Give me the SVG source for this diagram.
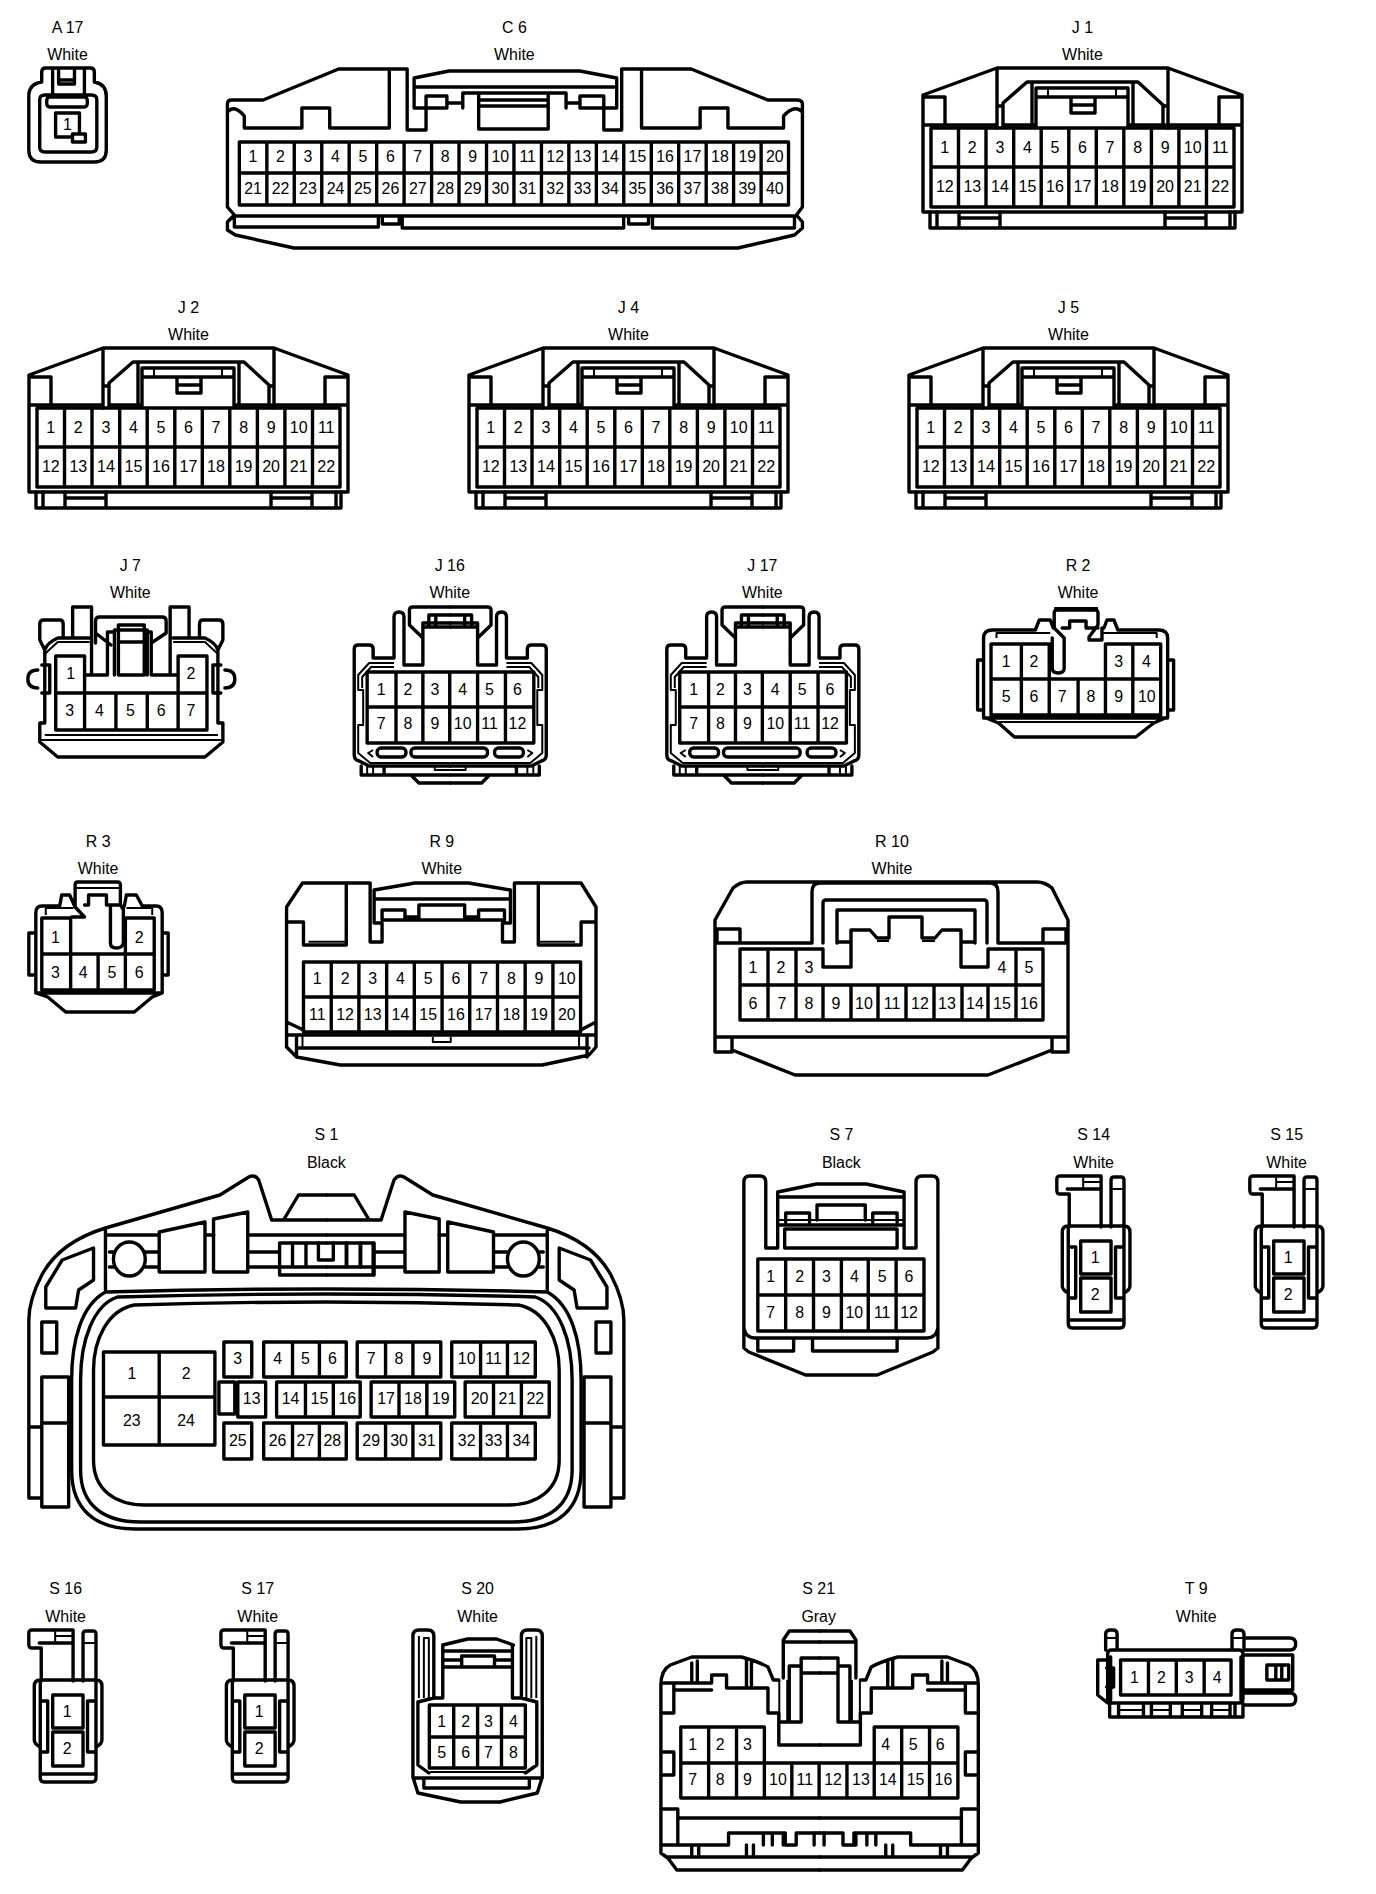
<svg xmlns="http://www.w3.org/2000/svg" width="1376" height="1894" viewBox="0 0 1376 1894">
<style>
.h{fill:none;stroke:#000;stroke-width:3.4;stroke-linejoin:round;stroke-linecap:round}
.t{fill:none;stroke:#000;stroke-width:2;stroke-linejoin:round}
text{font-family:"Liberation Sans",Arial,sans-serif;font-size:16px;text-anchor:middle;fill:#000}
</style>
<defs>
<g id="h22">
<path class="h" d="M923,95L997,68H1168L1242,95V212H923ZM923,125H997M1003,125H1035M1128,125H1165M1168,125H1242M945,97V125M923,97H945M1219,97V125M1219,97H1242M997,68V128M1168,68V128M997,106H1003M1163,106H1168M1003,127V103L1027,82H1138L1163,105V127M1032,84V125M1133,84V125M1036,127V88H1128V127M1036,97H1128M1071,98V113H1095V98M1071,105H1095"/>
<path class="t" d="M1048,88V97M1116,88V97"/>
<path class="h" d="M931,128H1234V207H931ZM931,167H1234M958.5,128V207M986,128V207M1013.7,128V207M1041.2,128V207M1068.8,128V207M1096.3,128V207M1123.8,128V207M1151.4,128V207M1178.9,128V207M1206.5,128V207M930,212V228H1235V212M937,212V228M1230,212V228M959,212V228M1000,212V228M1165,212V228M1206,212V228M959,218H1000M1165,218H1206"/>
</g>
<g id="h12l">
<path class="h" d="M452.5,607H415Q411.5,607 411.5,610V625L425,638V665H406V617Q406,612 401,612Q396,612 396,617V658H375V649Q375,645 371,645H360Q356,645 356,649V755Q356,760 361,761L371,766H452.5M425,638V623H452.5M431,623V615H452.5M438,615V626M431,615V626M425,627H452.5M363,766V775H452.5M413,775L421,783H452.5M386,766V775"/>
<path class="t" d="M396,663H371L360,675V690H365V725H360V753L372,763H452.5M396,667H373L364,677V688M369,766V775M375,766V775M437,767V770H452.5M375,750L370,753L375,757"/>
<rect class="h" x="379" y="748" width="29" height="9" rx="4"/>
</g>
<g id="h12">
<use href="#h12l"/><use href="#h12l" transform="matrix(-1 0 0 1 905 0)"/>
<rect class="h" x="413" y="748" width="77" height="9" rx="4"/>
<path class="h" d="M369,672H536.5V743H369ZM369,707H536.5M398,672V743M425,672V743M452,672V743M480,672V743M508,672V743"/>
</g>
<g id="p2">
<path class="h" d="M1071,1194H1061Q1058.5,1194 1058.5,1190V1179Q1058.5,1176 1062,1176H1103V1227M1071,1194V1227M1069,1189H1103M1113,1227V1180Q1113,1177 1116,1177H1123Q1126,1177 1126,1180V1227M1064,1232Q1064,1226 1070,1226H1126Q1132,1226 1132,1232V1286Q1132,1290 1126,1293V1324Q1126,1328 1122,1328H1074Q1070,1328 1070,1324V1293Q1064,1290 1064,1286ZM1070,1226V1293M1126,1226V1293M1070,1247H1077.5V1298H1070M1126,1247H1117.5V1298H1126M1070,1320H1126M1082.5,1241H1113V1274H1082.5ZM1082.5,1278H1113V1312H1082.5Z"/>
<path class="t" d="M1085,1182H1103M1113,1189H1126M1085,1176V1189"/>
</g>
<g id="s1l">
<path class="h" d="M328,1220H273L260,1180Q256,1174 250,1177L221,1195L106,1228Q60,1242 42,1275Q29,1300 29,1320V1498H42V1507H69V1423M42,1498V1377H69V1423H42M29,1427H42M42,1322H57V1353H42ZM46,1308V1287L62.5,1260L94,1248V1280L79,1290L76,1308ZM106,1228V1290M160,1232L206,1222V1272H160ZM214.6,1219L249,1212V1272H214.6ZM106,1235H160M206,1235H215M249,1235H328M250,1252H281M250,1267H281M110,1252H114M146,1252H160M146,1267H160M110,1267H114M281,1243H328M281,1243V1275H328M281,1267H328M294,1243V1267M307.5,1243V1267M285,1220L300,1195H328"/>
<ellipse class="h" cx="130" cy="1259" rx="16" ry="17"/>
</g>
<g id="s21l">
<path class="h" d="M820.5,1631H790L784,1640V1678M784,1642H820.5M802,1722V1658H820.5M802,1673H820.5M802,1666H790V1722H802M779.5,1722H802M779.5,1722V1745H820.5M779.5,1680H774L768.6,1667Q760,1662 742,1657H692L670.5,1665Q661,1670 661,1685V1853L668,1858L677,1870H820.5M664,1683H712V1675H727V1688H768.6V1713H779.5V1722M661,1713H674V1683M661,1752H674V1775H661M661,1809H678V1845M678,1818H820.5M661,1845H729V1833H786V1845H797V1833H820.5M668,1857H820.5M675,1690H712M692,1663V1683M697.6,1661V1683M747,1659V1688M752,1661V1688M692,1845V1857M699,1845V1857M747,1845V1857M754,1845V1857M764,1833V1845M773,1833V1845M784,1833V1845"/>
<path class="t" d="M780,1680V1722M788,1680V1722"/>
</g>
</defs>
<rect width="1376" height="1894" fill="#fff"/>

<g id="A17" transform="matrix(.9931 0 0 1 0 0)">
<text x="68" y="33">A 17</text><text x="68" y="60">White</text>
<path class="h" d="M42,82V72Q42,68 46,68H91Q95,68 95,72V82Q107,84 107,96V150Q107,162 95,162H41Q29,162 29,150V96Q29,84 42,82ZM40,100Q40,95 45,95H92Q97.5,95 97.5,100V147Q97.5,152 92,152H45Q40,152 40,147ZM53,70V97M85,70V97M50,97H85Q88,97 88,102T85,107H50Q47,107 47,102T50,97ZM59,70V84H75V70M59,80H75M80,134V113H56V137H73M73,134H86V142H73Z"/>
<text x="68" y="130">1</text>
</g>

<g id="C6" transform="matrix(.9931 0 0 1 0 0)">
<text x="518" y="33">C 6</text><text x="518" y="60">White</text>
<path class="h" d="M429,108V130H410V69H341L265,100H233Q229,100 229,104V207L236,215L229,222V230L237,235L296,248H743L800,235L808,228V222L802,215L808,207V104Q808,100 802,100H773L696,69H626V130H608V108M392,69V128M646,69V128M229,112Q236,104 246,116V128H304V108H332V128H392M646,128H705V108H733V128H789V116Q800,104 808,112M417,108V78L452,71H584L621,78V108M417,87H621M417,108H429V96H450V108H429M608,108H621M584,108V96H608V108H584M450,103H466M570,103H584M466,108V93H570V108M482,95V129H552V95M482,100H552M482,106H552M235,216H800M236,216V227H381V216M405,216V228H628V216M657,216V228H800V216M385,218V224H402V218M633,218V224H653V218"/>
<path class="h" d="M241,142H794V205H241ZM241,173H794M268.7,142V205M296.3,142V205M324,142V205M351.6,142V205M379.3,142V205M406.9,142V205M434.6,142V205M462.2,142V205M489.9,142V205M517.5,142V205M545.2,142V205M572.8,142V205M600.5,142V205M628.1,142V205M655.8,142V205M683.4,142V205M711.1,142V205M738.7,142V205M766.4,142V205"/>
<text x="254.8" y="162">1</text><text x="282.5" y="162">2</text><text x="310.1" y="162">3</text><text x="337.8" y="162">4</text><text x="365.4" y="162">5</text><text x="393.1" y="162">6</text><text x="420.7" y="162">7</text><text x="448.4" y="162">8</text><text x="476" y="162">9</text><text x="503.7" y="162">10</text><text x="531.3" y="162">11</text><text x="559" y="162">12</text><text x="586.6" y="162">13</text><text x="614.3" y="162">14</text><text x="641.9" y="162">15</text><text x="669.6" y="162">16</text><text x="697.2" y="162">17</text><text x="724.9" y="162">18</text><text x="752.5" y="162">19</text><text x="780.2" y="162">20</text>
<text x="254.8" y="194">21</text><text x="282.5" y="194">22</text><text x="310.1" y="194">23</text><text x="337.8" y="194">24</text><text x="365.4" y="194">25</text><text x="393.1" y="194">26</text><text x="420.7" y="194">27</text><text x="448.4" y="194">28</text><text x="476" y="194">29</text><text x="503.7" y="194">30</text><text x="531.3" y="194">31</text><text x="559" y="194">32</text><text x="586.6" y="194">33</text><text x="614.3" y="194">34</text><text x="641.9" y="194">35</text><text x="669.6" y="194">36</text><text x="697.2" y="194">37</text><text x="724.9" y="194">38</text><text x="752.5" y="194">39</text><text x="780.2" y="194">40</text>
</g>

<g id="J1">
<text x="1082.5" y="33">J 1</text><text x="1082.5" y="60">White</text>
<use href="#h22"/>
<text x="944.8" y="153">1</text><text x="972.3" y="153">2</text><text x="999.9" y="153">3</text><text x="1027.4" y="153">4</text><text x="1055" y="153">5</text><text x="1082.5" y="153">6</text><text x="1110" y="153">7</text><text x="1137.6" y="153">8</text><text x="1165.1" y="153">9</text><text x="1192.7" y="153">10</text><text x="1220.2" y="153">11</text>
<text x="944.8" y="192">12</text><text x="972.3" y="192">13</text><text x="999.9" y="192">14</text><text x="1027.4" y="192">15</text><text x="1055" y="192">16</text><text x="1082.5" y="192">17</text><text x="1110" y="192">18</text><text x="1137.6" y="192">19</text><text x="1165.1" y="192">20</text><text x="1192.7" y="192">21</text><text x="1220.2" y="192">22</text>
</g>
<g id="J2" transform="translate(-894,280)">
<text x="1082.5" y="33">J 2</text><text x="1082.5" y="60">White</text>
<use href="#h22"/>
<text x="944.8" y="153">1</text><text x="972.3" y="153">2</text><text x="999.9" y="153">3</text><text x="1027.4" y="153">4</text><text x="1055" y="153">5</text><text x="1082.5" y="153">6</text><text x="1110" y="153">7</text><text x="1137.6" y="153">8</text><text x="1165.1" y="153">9</text><text x="1192.7" y="153">10</text><text x="1220.2" y="153">11</text>
<text x="944.8" y="192">12</text><text x="972.3" y="192">13</text><text x="999.9" y="192">14</text><text x="1027.4" y="192">15</text><text x="1055" y="192">16</text><text x="1082.5" y="192">17</text><text x="1110" y="192">18</text><text x="1137.6" y="192">19</text><text x="1165.1" y="192">20</text><text x="1192.7" y="192">21</text><text x="1220.2" y="192">22</text>
</g>
<g id="J4" transform="translate(-454,280)">
<text x="1082.5" y="33">J 4</text><text x="1082.5" y="60">White</text>
<use href="#h22"/>
<text x="944.8" y="153">1</text><text x="972.3" y="153">2</text><text x="999.9" y="153">3</text><text x="1027.4" y="153">4</text><text x="1055" y="153">5</text><text x="1082.5" y="153">6</text><text x="1110" y="153">7</text><text x="1137.6" y="153">8</text><text x="1165.1" y="153">9</text><text x="1192.7" y="153">10</text><text x="1220.2" y="153">11</text>
<text x="944.8" y="192">12</text><text x="972.3" y="192">13</text><text x="999.9" y="192">14</text><text x="1027.4" y="192">15</text><text x="1055" y="192">16</text><text x="1082.5" y="192">17</text><text x="1110" y="192">18</text><text x="1137.6" y="192">19</text><text x="1165.1" y="192">20</text><text x="1192.7" y="192">21</text><text x="1220.2" y="192">22</text>
</g>
<g id="J5" transform="translate(-14,280)">
<text x="1082.5" y="33">J 5</text><text x="1082.5" y="60">White</text>
<use href="#h22"/>
<text x="944.8" y="153">1</text><text x="972.3" y="153">2</text><text x="999.9" y="153">3</text><text x="1027.4" y="153">4</text><text x="1055" y="153">5</text><text x="1082.5" y="153">6</text><text x="1110" y="153">7</text><text x="1137.6" y="153">8</text><text x="1165.1" y="153">9</text><text x="1192.7" y="153">10</text><text x="1220.2" y="153">11</text>
<text x="944.8" y="192">12</text><text x="972.3" y="192">13</text><text x="999.9" y="192">14</text><text x="1027.4" y="192">15</text><text x="1055" y="192">16</text><text x="1082.5" y="192">17</text><text x="1110" y="192">18</text><text x="1137.6" y="192">19</text><text x="1165.1" y="192">20</text><text x="1192.7" y="192">21</text><text x="1220.2" y="192">22</text>
</g>

<g id="J7" transform="matrix(.995 0 0 1 0 0)">
<text x="131" y="571">J 7</text><text x="131" y="598">White</text>
<path class="h" d="M56,656H85V693H56ZM179,656H208V693H179ZM56,693H208V730H56ZM85,693V730M116.5,693V730M148,693V730M179,693V730M85,675H108V632H115V630H148V632H152V675H179M119,675V625H145V675ZM119,642H145M115,630V675M148,630V675M92,675V607H73V637M171,675V607H190V637M96,643V621Q96,617 100,617H163Q167,617 167,621V633L152,643M96,633L111.5,645M40,640V624Q40,620 44,620H60Q63.5,620 63.5,624V637M224,640V624Q224,620 220,620H204Q200.5,620 200.5,624V637M40,640L45,650M224,640L219,650M45,650Q47,643 58,638H90M219,650Q217,643 206,638H174M45,650V723H40V742L58,757H206L224,742V723H219V650M42,665H50V693H42M222,665H214V693H222M38,670Q28,670 28,679Q28,688 38,688M226,670Q236,670 236,679Q236,688 226,688"/>
<path class="t" d="M45,654L58,642H90M219,654L206,642H174M40,740H224M45,735H219"/>
<text x="71" y="679">1</text><text x="192" y="679">2</text><text x="70" y="716">3</text><text x="100" y="716">4</text><text x="131" y="716">5</text><text x="162" y="716">6</text><text x="192" y="716">7</text>
</g>

<g id="J16" transform="matrix(.995 0 0 1 0 0)">
<text x="452" y="571">J 16</text><text x="452" y="598">White</text>
<use href="#h12"/>
<text x="383" y="695">1</text><text x="410" y="695">2</text><text x="437" y="695">3</text><text x="465" y="695">4</text><text x="492" y="695">5</text><text x="520" y="695">6</text>
<text x="383" y="729">7</text><text x="410" y="729">8</text><text x="437" y="729">9</text><text x="465" y="729">10</text><text x="492" y="729">11</text><text x="520" y="729">12</text>
</g>
<g id="J17" transform="matrix(.995 0 0 1 312.6 0)">
<text x="452" y="571">J 17</text><text x="452" y="598">White</text>
<use href="#h12"/>
<text x="383" y="695">1</text><text x="410" y="695">2</text><text x="437" y="695">3</text><text x="465" y="695">4</text><text x="492" y="695">5</text><text x="520" y="695">6</text>
<text x="383" y="729">7</text><text x="410" y="729">8</text><text x="437" y="729">9</text><text x="465" y="729">10</text><text x="492" y="729">11</text><text x="520" y="729">12</text>
</g>

<g id="R2" transform="matrix(.995 0 0 1 2.5 0)">
<text x="1081" y="571">R 2</text><text x="1081" y="598">White</text>
<path class="h" d="M993.5,644H1052V679H993.5ZM1108.5,644H1164V679H1108.5ZM993.5,679H1164V715H993.5ZM1024,644V715M1052,679V715M1081,679V715M1108.5,679V715M1136,644V715M1056,628L1053,620H1042L1038,630H995Q986,630 986,638V717L1001,723L1017,737H1139L1157,723L1171,717V638Q1171,630 1162,630H1121L1117,620H1110L1107,628M986,718H1171M986,660H980V710H986M1171,660H1177V710H1171M1057,628V613Q1057,610 1060,610H1098Q1101,610 1101,613V625L1092,637V640H1105V628M1057,628L1067,638V668Q1067,673 1061,673T1055,668V638M1065,628H1072.5V621H1089V628H1101"/>
<path class="t" d="M999,638V633H1053M1160,638V633H1105M1001,722H1157M1057,608H1101"/>
<text x="1008.6" y="667">1</text><text x="1036.6" y="667">2</text><text x="1121.7" y="667">3</text><text x="1149.7" y="667">4</text>
<text x="1008.6" y="702">5</text><text x="1036.6" y="702">6</text><text x="1065" y="702">7</text><text x="1094" y="702">8</text><text x="1121.7" y="702">9</text><text x="1150" y="702">10</text>
</g>

<g id="R3" transform="matrix(.995 0 0 1 0 0)">
<text x="98.6" y="847">R 3</text><text x="98.6" y="874">White</text>
<path class="h" d="M42,918H71V954H42ZM126,918H155V954H126ZM42,954H155V990H42ZM71,954V990M98.6,954V990M126,954V990M75,906L70,895H62L60,906H42Q36,906 36,913V993L48,997L66,1012H135L153,997L163,993V913Q163,906 157,906H143L137,895H127L125,906M36,993H163M36,933H29V975H36M163,933H169V975H163M75.5,907V885Q75.5,882 78,882H118Q121,882 121,885V905H111V943Q111,948 117,948T124,943V906M75.5,907L85,917H72M85,905H89V895H107V905H111M121,905L124,910"/>
<path class="t" d="M46,915V908H74M153,915V908H127M76,888H121"/>
<text x="55.6" y="943">1</text><text x="140" y="943">2</text><text x="55.6" y="978">3</text><text x="83.5" y="978">4</text><text x="112.5" y="978">5</text><text x="140" y="978">6</text>
</g>

<g id="R9" transform="matrix(.995 0 0 1 0 0)">
<text x="444" y="847">R 9</text><text x="444" y="874">White</text>
<path class="h" d="M384,923V942H372V883H304L288,907V1047L298,1057L342,1065H545L592,1055L599,1047V907L584,883H517V942H505V923M376,923V890L417,883H471L513,890V923M376,899H513M376,923H384M505,923H513M384,920V910H407V920M481,920V910H507V920M384,920H507M421,920V905H467V920M407,917H421M467,917H481M348,883V945H305V922H288M541,883V945H584V922H599M288,1022L305,1030M599,1022L583.5,1030M288,1035H599M298,1048H592M298,1035V1057M590,1035V1057"/>
<path class="h" d="M305,962H583.5V1032H305ZM305,997H583.5M332.9,962V1032M360.7,962V1032M388.6,962V1032M416.4,962V1032M444.3,962V1032M472.1,962V1032M500,962V1032M527.8,962V1032M555.7,962V1032"/>
<path class="t" d="M310,941.7H348M541,941.7H578M304,1035V1048M582,1035V1048M435,1037V1042H453V1037"/>
<text x="318.9" y="984">1</text><text x="346.8" y="984">2</text><text x="374.6" y="984">3</text><text x="402.5" y="984">4</text><text x="430.3" y="984">5</text><text x="458.2" y="984">6</text><text x="486" y="984">7</text><text x="513.9" y="984">8</text><text x="541.7" y="984">9</text><text x="569.6" y="984">10</text>
<text x="318.9" y="1020">11</text><text x="346.8" y="1020">12</text><text x="374.6" y="1020">13</text><text x="402.5" y="1020">14</text><text x="430.3" y="1020">15</text><text x="458.2" y="1020">16</text><text x="486" y="1020">17</text><text x="513.9" y="1020">18</text><text x="541.7" y="1020">19</text><text x="569.6" y="1020">20</text>
</g>

<g id="R10">
<text x="892" y="847">R 10</text><text x="892" y="874">White</text>
<path class="h" d="M715,920L733,888Q740,882 747,882H1037Q1045,882 1052,888L1068,920V1052H1052V1050L988,1075H795L732,1050V1052H715ZM715,943H812V892Q812,883 820,883H990Q998,883 998,892V943H1068M823,943V903Q823,900 826,900H984Q987,900 987,903V943M715,1037H1068M732,1037V1050M1052,1037V1050M717,943V929H740V943M1043,943V929H1066V943M837,943V910H975V943M837,942H851M961,942H975M740,949H823V967H851V930H870L877,938H889V917H922V938H935L942,930H961V967H988V949H1043V1020H740ZM740,985H1043M768,949V1020M796,949V1020M823,985V1020M851,985V1020M878,985V1020M906,985V1020M934,985V1020M962,985V1020M988,985V1020M1016,949V1020"/>
<path class="t" d="M877,941H889M922,941H935"/>
<text x="753" y="973">1</text><text x="781" y="973">2</text><text x="809" y="973">3</text><text x="1002" y="973">4</text><text x="1029" y="973">5</text>
<text x="753" y="1009">6</text><text x="782" y="1009">7</text><text x="809" y="1009">8</text><text x="836" y="1009">9</text><text x="864" y="1009">10</text><text x="892" y="1009">11</text><text x="920" y="1009">12</text><text x="947" y="1009">13</text><text x="975" y="1009">14</text><text x="1002" y="1009">15</text><text x="1029" y="1009">16</text>
</g>

<g id="S1" transform="matrix(.995 0 0 1 0 0)">
<text x="328" y="1140">S 1</text><text x="328" y="1168">Black</text>
<use href="#s1l"/><use href="#s1l" transform="matrix(-1 0 0 1 656 0)"/>
<path class="h" d="M320,1243V1260H335V1243M348,1243V1267M362.5,1243V1267M376,1243V1275"/>
<path class="h" d="M106,1292Q328,1286 550,1292C574,1305 584,1340 584,1380V1470C584,1510 560,1529 520,1529H136C96,1529 72,1510 72,1470V1380C72,1340 82,1305 106,1292ZM118,1297Q328,1291 538,1297C562,1305 575,1340 575,1380V1470C575,1505 552,1522 515,1522H141C104,1522 81,1505 81,1470V1380C81,1340 94,1305 118,1297ZM135,1305Q328,1299 521,1305C548,1310 562,1340 562,1370V1460C562,1490 540,1505 510,1505H146C116,1505 94,1490 94,1460V1370C94,1340 108,1310 135,1305Z"/>
<path class="h" d="M104,1352H216V1445H104ZM160,1352V1445M104,1397H216M225,1342H253V1377H225ZM265,1342H348V1377H265ZM294,1342V1377M321,1342V1377M359,1342H443V1377H359ZM387.5,1342V1377M415,1342V1377M454,1342H538V1377H454ZM483,1342V1377M510,1342V1377M220,1382H236V1414H220ZM239,1382H267V1417H239ZM278,1382H362V1417H278ZM307,1382V1417M335,1382V1417M373,1382H457V1417H373ZM401,1382V1417M429,1382V1417M467.5,1382H552V1417H467.5ZM496,1382V1417M524,1382V1417M225,1423H253V1459H225ZM265,1423H348V1459H265ZM294,1423V1459M321,1423V1459M359,1423H443V1459H359ZM387.5,1423V1459M415,1423V1459M454,1423H538V1459H454ZM483,1423V1459M510,1423V1459"/>
<text x="132.5" y="1379">1</text><text x="187" y="1379">2</text><text x="132.5" y="1426">23</text><text x="187" y="1426">24</text>
<text x="239" y="1364">3</text><text x="279" y="1364">4</text><text x="307" y="1364">5</text><text x="334" y="1364">6</text><text x="373" y="1364">7</text><text x="401" y="1364">8</text><text x="429" y="1364">9</text><text x="469" y="1364">10</text><text x="496" y="1364">11</text><text x="524" y="1364">12</text>
<text x="253" y="1404">13</text><text x="292" y="1404">14</text><text x="321" y="1404">15</text><text x="349" y="1404">16</text><text x="388" y="1404">17</text><text x="415" y="1404">18</text><text x="443" y="1404">19</text><text x="482" y="1404">20</text><text x="510" y="1404">21</text><text x="538" y="1404">22</text>
<text x="239" y="1446">25</text><text x="279" y="1446">26</text><text x="307" y="1446">27</text><text x="334" y="1446">28</text><text x="373" y="1446">29</text><text x="401" y="1446">30</text><text x="429" y="1446">31</text><text x="469" y="1446">32</text><text x="496" y="1446">33</text><text x="524" y="1446">34</text>
</g>

<g id="S7" transform="matrix(.995 0 0 1 3.6 0)">
<text x="842" y="1140">S 7</text><text x="842" y="1168">Black</text>
<path class="h" d="M778,1192V1248H766V1182Q766,1176 760,1176H750Q744,1176 744,1182V1348L749,1352L806,1375H878L934,1352L939,1348V1182Q939,1176 933,1176H923Q917,1176 917,1182V1248H905V1192M778,1192L817,1184H867L905,1192M778,1197H905M817.5,1220V1205H866V1220M786,1222V1213H810V1222M873.5,1222V1213H898V1222M778,1225H905M785,1229H898V1248H785ZM744,1328Q746,1338 755,1338H928Q937,1338 939,1328M758,1340V1351H794V1340M813,1340V1351H898V1340"/>
<path class="h" d="M758,1259H925V1331H758ZM758,1295H925M786,1259V1331M814,1259V1331M842,1259V1331M869,1259V1331M897,1259V1331"/>
<path class="t" d="M778,1220H905"/>
<text x="771" y="1282">1</text><text x="800" y="1282">2</text><text x="827" y="1282">3</text><text x="855" y="1282">4</text><text x="883" y="1282">5</text><text x="910" y="1282">6</text>
<text x="771" y="1318">7</text><text x="800" y="1318">8</text><text x="827" y="1318">9</text><text x="855" y="1318">10</text><text x="883" y="1318">11</text><text x="910" y="1318">12</text>
</g>

<g id="S14" transform="matrix(.995 0 0 1 3.6 0)">
<text x="1095.5" y="1140">S 14</text><text x="1095.5" y="1168">White</text>
<use href="#p2"/>
<text x="1097" y="1263">1</text><text x="1097" y="1300">2</text>
</g>
<g id="S15" transform="matrix(.995 0 0 1 196.6 0)">
<text x="1095.5" y="1140">S 15</text><text x="1095.5" y="1168">White</text>
<use href="#p2"/>
<text x="1097" y="1263">1</text><text x="1097" y="1300">2</text>
</g>
<g id="S16" transform="matrix(.995 0 0 1 -1024.4 454)">
<text x="1095.5" y="1140">S 16</text><text x="1095.5" y="1168">White</text>
<use href="#p2"/>
<text x="1097" y="1263">1</text><text x="1097" y="1300">2</text>
</g>
<g id="S17" transform="matrix(.995 0 0 1 -832.3 454)">
<text x="1095.5" y="1140">S 17</text><text x="1095.5" y="1168">White</text>
<use href="#p2"/>
<text x="1097" y="1263">1</text><text x="1097" y="1300">2</text>
</g>

<g id="S20" transform="matrix(.995 0 0 1 0 0)">
<text x="480" y="1594">S 20</text><text x="480" y="1622">White</text>
<path class="h" d="M445,1645V1698H436V1636Q436,1630 430,1630H421Q415,1630 415,1636V1777L420,1793L463,1802H502.5L540,1793L545,1777V1636Q545,1630 539,1630H530Q524,1630 524,1636V1698H515V1645M445,1645L470,1639H499L516,1645M445,1651H515M445,1660H464M497,1660H515M445,1667H515M464,1667V1656H497V1667M415,1778H545M426,1778V1788H532V1778M420,1702V1765L431,1773M539.5,1702V1765L528,1773M420,1702L436,1698M539.5,1702L524,1698M431.5,1705H528V1768H431.5ZM431.5,1737H528M456,1705V1768M480,1705V1768M504,1705V1768"/>
<path class="t" d="M421,1698V1636M426,1698V1638H431V1698M539,1698V1636M534,1698V1638H529V1698M432,1772H528"/>
<text x="444" y="1727">1</text><text x="468" y="1727">2</text><text x="491" y="1727">3</text><text x="516" y="1727">4</text>
<text x="444" y="1758">5</text><text x="468" y="1758">6</text><text x="491" y="1758">7</text><text x="516" y="1758">8</text>
</g>

<g id="S21" transform="matrix(.995 0 0 1 3.2 0)">
<text x="819.6" y="1594">S 21</text><text x="819.6" y="1622">Gray</text>
<use href="#s21l"/><use href="#s21l" transform="matrix(-1 0 0 1 1641 0)"/>
<path class="h" d="M681,1727H765V1763H681ZM875.4,1727H959.5V1763H875.4ZM681,1763H959.5V1798H681ZM709,1727V1798M737,1727V1798M765,1763V1798M792.6,1763V1798M820,1763V1798M848,1763V1798M875.4,1763V1798M903,1727V1798M931,1727V1798M815,1833V1845M825,1833V1845"/>
<text x="693" y="1750">1</text><text x="720.6" y="1750">2</text><text x="748" y="1750">3</text><text x="887" y="1750">4</text><text x="914.6" y="1750">5</text><text x="941.6" y="1750">6</text>
<text x="693" y="1785">7</text><text x="720.6" y="1785">8</text><text x="748" y="1785">9</text><text x="778.6" y="1785">10</text><text x="805.6" y="1785">11</text><text x="834" y="1785">12</text><text x="862" y="1785">13</text><text x="889" y="1785">14</text><text x="917" y="1785">15</text><text x="945" y="1785">16</text>
</g>

<g id="T9" transform="matrix(.995 0 0 1 3.2 0)">
<text x="1199" y="1594">T 9</text><text x="1199" y="1622">White</text>
<path class="h" d="M1110,1654Q1110,1650 1114,1650H1242Q1246,1650 1246,1654V1699Q1246,1703 1242,1703H1114Q1110,1703 1110,1699ZM1113,1657V1700M1244,1657V1700M1110,1660H1100V1695L1110,1703M1109,1668H1116V1687H1109M1123,1660H1234V1695H1123ZM1151,1660V1695M1179,1660V1695M1207,1660V1695M1108,1650V1634Q1108,1630 1113,1630H1115Q1119.5,1630 1119.5,1634V1650M1235,1650V1634Q1235,1630 1240,1630H1242Q1247,1630 1247,1634V1650M1112,1703V1717H1246V1703M1121,1703V1717M1146,1703V1717M1154,1703V1717M1173,1703V1717M1185,1703V1717M1204.5,1703V1717M1214.5,1703V1717M1233,1703V1717M1238,1703V1717M1247,1638H1293Q1299,1638 1299,1644T1293,1650H1247M1247,1693H1293Q1299,1693 1299,1699T1293,1705H1247M1247,1655H1296V1690H1247M1270,1665H1292V1680H1270ZM1279,1665V1680M1285,1665V1680"/>
<path class="t" d="M1108,1638H1119.5M1235,1638H1247M1121,1710H1146M1154,1710H1173M1185,1710H1204.5M1214.5,1710H1233"/>
<text x="1137" y="1683">1</text><text x="1164" y="1683">2</text><text x="1192" y="1683">3</text><text x="1220" y="1683">4</text>
</g>
</svg>
